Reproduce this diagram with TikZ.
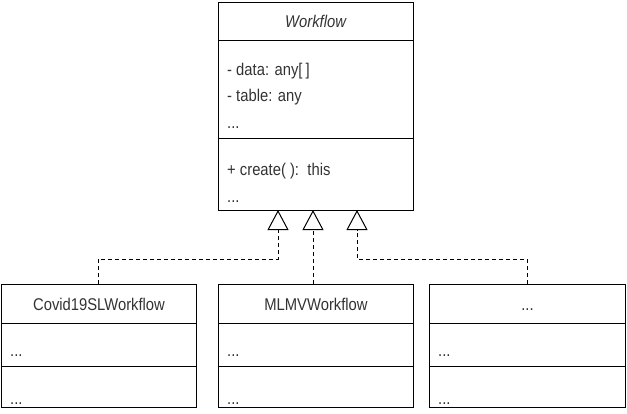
\documentclass[tikz,border=0pt]{standalone}
\usepackage{fontspec}
\setmainfont{Liberation Sans}[FakeStretch=0.87]
\usetikzlibrary{arrows.meta}

\definecolor{ink}{HTML}{333333}

\tikzset{
  % one compartment of a class box
  part/.style={draw=black, line width=1pt, anchor=north west, inner sep=0pt,
               minimum width=195pt, text=ink,
               text height=12pt, text depth=0pt},
  % a member line inside a compartment
  member/.style={anchor=base west, inner sep=0pt, text=ink},
  % realization / inheritance connector
  inherit/.style={draw=black, line width=1pt, dash pattern=on 4pt off 3pt,
                  -{Triangle[open, width=21pt, length=20pt, line width=1pt]}},
}

\begin{document}
\begin{tikzpicture}[x=1pt, y=-1pt, font=\fontsize{17}{20}\selectfont]
  \useasboundingbox (0,0) rectangle (627,413);

  % abstract base class
  \node[part, minimum height=38pt] (wf-head) at (218,1.5) {\textit{Workflow}};
  \node[part, minimum height=98pt] (wf-attr) at (218,39.5) {};
  \node[part, minimum height=72.5pt] (wf-ops) at (218,137.5) {};
  \node[member] (wf-a1) at (227,75) {- data: any[\kern3pt]};
  \node[member] (wf-a2) at (227,101.5) {- table: any};
  \node[member] (wf-a3) at (227,128) {...};
  \node[member] (wf-o1) at (227,175) {+ create( ):\, this};
  \node[member] (wf-o2) at (227,202) {...};

  % concrete workflows
  \node[part, minimum height=39pt] (c1-head) at (1,284) {Covid19SLWorkflow};
  \node[part, minimum height=42.5pt] (c1-attr) at (1,323) {};
  \node[part, minimum height=41pt] (c1-ops) at (1,365.5) {};
  \node[member] (c1-a) at (10,356) {...};
  \node[member] (c1-o) at (10,404) {...};

  \node[part, minimum height=39pt] (c2-head) at (218,284) {MLMVWorkflow};
  \node[part, minimum height=42.5pt] (c2-attr) at (218,323) {};
  \node[part, minimum height=41pt] (c2-ops) at (218,365.5) {};
  \node[member] (c2-a) at (227,356) {...};
  \node[member] (c2-o) at (227,404) {...};

  \node[part, minimum height=39pt, minimum width=196pt] (c3-head) at (429,284) {...};
  \node[part, minimum height=42.5pt, minimum width=196pt] (c3-attr) at (429,323) {};
  \node[part, minimum height=41pt, minimum width=196pt] (c3-ops) at (429,365.5) {};
  \node[member] (c3-a) at (438,356) {...};
  \node[member] (c3-o) at (438,404) {...};

  % arrow tips on the base class and bends of the connectors
  \coordinate (t1) at (278,210);
  \coordinate (t2) at (313,210);
  \coordinate (t3) at (357,210);
  \coordinate (b1) at (98,259);
  \coordinate (b3) at (527,259);

  \draw[inherit] (b1 |- c1-head.north) -- (b1) -| (t1);
  \draw[inherit] (t2 |- c2-head.north) -- (t2);
  \draw[inherit] (b3 |- c3-head.north) -- (b3) -| (t3);
\end{tikzpicture}
\end{document}
